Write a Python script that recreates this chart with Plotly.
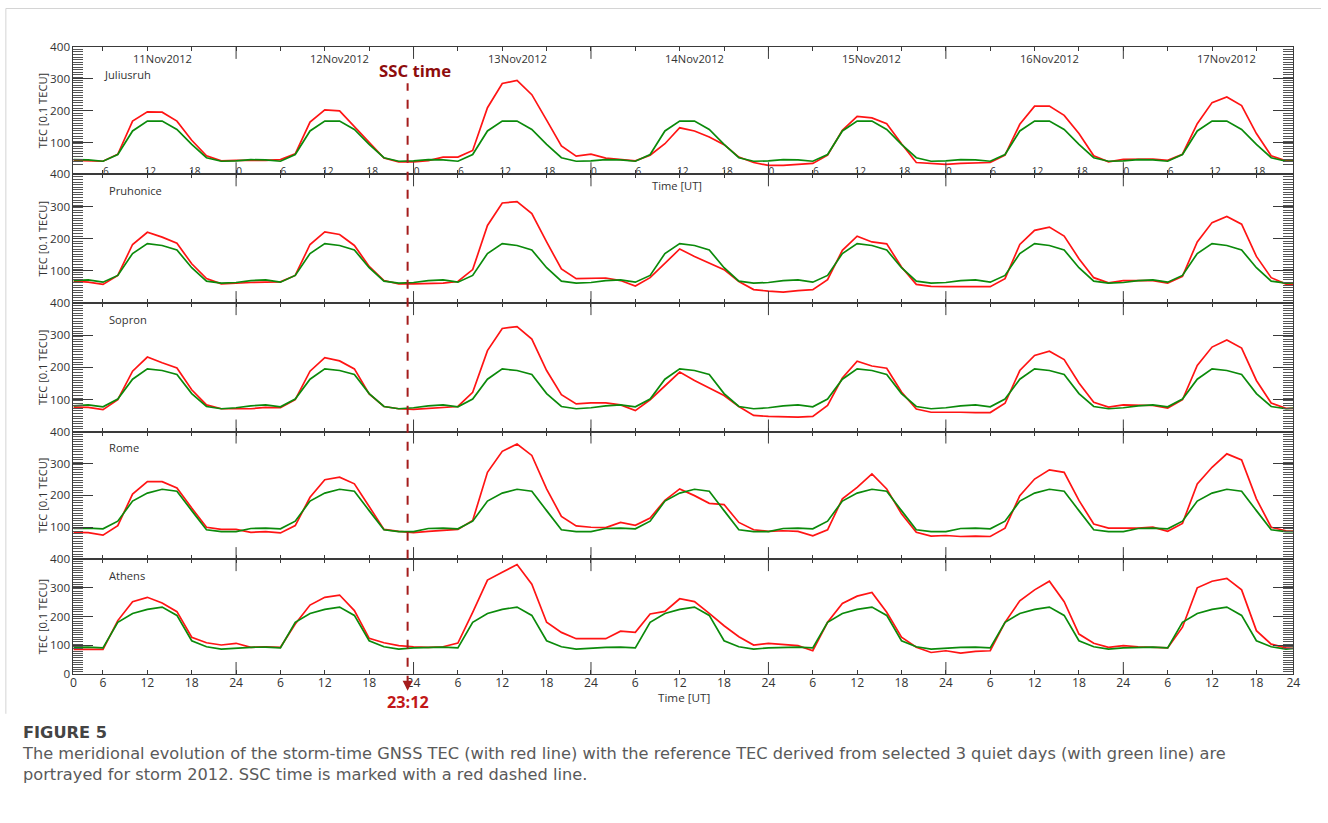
import plotly.graph_objects as go

# The page keeps the browser's default 8px body margin and the capture is fitted
# into the 1328x823 picture; positions below are given in picture pixels of the
# reference and mapped into figure coordinates (mapping calibrated on renders).
W, H = 1328, 823
OFF = 8
SY = H / (H + 2 * OFF)
SXR, BX = 0.9917, 3.63
FS = 1 / ((SXR + SY) / 2)   # font-size compensation for that fit

# ---------------- data ----------------
HOURS = list(range(2, 170, 2))          # hours since 11 Nov 2012 00 UT, 2-hourly
STATIONS = ["Juliusruh", "Pruhonice", "Sopron", "Rome", "Athens"]
DATES = ["11Nov2012", "12Nov2012", "13Nov2012", "14Nov2012",
         "15Nov2012", "16Nov2012", "17Nov2012"]
DATE_LABEL_HOURS = [14, 38, 62, 86, 110, 134, 158]
DAY_BOUNDARIES = [24, 48, 72, 96, 120, 144]
INNER_TICK_HOURS = list(range(6, 163, 6))
INNER_TICK_TEXT = ["6", "12", "18", "0"] * 6 + ["6", "12", "18"]
BOTTOM_TICK_HOURS = [2] + list(range(6, 163, 6)) + [167]
BOTTOM_TICK_TEXT = ["0"] + ["6", "12", "18", "24"] * 6 + ["6", "12", "18", "24"]
SSC_HOUR = 47.2            # 12 Nov 2012 23:12 UT
SSC_LABEL = "23:12"

# storm-time TEC (red) [0.1 TECU], one line per day (02..24 UT)
juliusruh_storm = [
    44, 43, 41, 63, 167, 196, 195, 167, 107, 58, 42, 44,
    43, 44, 46, 64, 164, 202, 199, 149, 98, 51, 39, 39,
    43, 54, 54, 75, 209, 285, 295, 250, 170, 89, 57, 63,
    51, 47, 42, 60, 96, 146, 136, 117, 93, 54, 37, 28,
    28, 31, 34, 60, 138, 182, 177, 159, 96, 37, 34, 31,
    34, 35, 37, 60, 157, 214, 214, 185, 128, 58, 39, 47,
    47, 48, 44, 63, 159, 225, 243, 216, 128, 58, 42, 42,
]
pruhonice_storm = [
    68, 65, 58, 86, 182, 220, 205, 186, 122, 76, 60, 63,
    64, 65, 66, 86, 182, 221, 213, 179, 114, 70, 60, 60,
    60, 62, 67, 104, 241, 311, 315, 278, 190, 106, 76, 78,
    78, 70, 53, 79, 122, 168, 145, 124, 104, 67, 42, 37,
    34, 39, 42, 73, 164, 208, 190, 184, 112, 58, 52, 51,
    51, 51, 51, 76, 182, 226, 236, 208, 138, 79, 63, 70,
    70, 70, 62, 83, 190, 250, 269, 245, 145, 79, 59, 59,
]
sopron_storm = [
    76, 75, 68, 99, 188, 232, 214, 198, 130, 83, 71, 71,
    71, 75, 74, 99, 188, 230, 220, 195, 117, 78, 71, 69,
    72, 74, 78, 122, 252, 321, 327, 288, 190, 115, 86, 89,
    89, 83, 65, 99, 143, 185, 159, 136, 112, 78, 50, 47,
    45, 45, 47, 81, 167, 219, 204, 197, 123, 70, 60, 61,
    60, 59, 59, 88, 190, 237, 250, 224, 151, 91, 76, 83,
    81, 81, 73, 99, 206, 263, 285, 260, 159, 89, 72, 72,
]
rome_storm = [
    84, 83, 75, 105, 204, 243, 243, 223, 160, 100, 93, 93,
    84, 86, 82, 105, 194, 249, 257, 236, 165, 93, 87, 83,
    87, 89, 93, 121, 272, 338, 361, 325, 220, 134, 104, 100,
    99, 115, 106, 129, 184, 220, 199, 175, 171, 115, 92, 87,
    89, 87, 73, 92, 189, 225, 267, 220, 142, 84, 72, 74,
    71, 72, 71, 97, 199, 251, 280, 272, 184, 110, 97, 97,
    97, 100, 87, 112, 236, 288, 330, 311, 189, 100, 89, 87,
]
athens_storm = [
    86, 86, 86, 186, 252, 267, 247, 217, 128, 109, 101, 107,
    93, 95, 93, 174, 240, 267, 275, 221, 124, 109, 99, 95,
    93, 95, 108, 215, 327, 354, 381, 313, 180, 145, 123, 123,
    123, 149, 145, 209, 218, 262, 252, 211, 168, 130, 101, 107,
    103, 99, 81, 180, 246, 271, 284, 215, 128, 93, 75, 81,
    73, 79, 81, 180, 255, 293, 323, 252, 139, 107, 93, 99,
    95, 93, 91, 163, 300, 323, 333, 293, 151, 104, 91, 87,
]

# quiet-day reference TEC (green) [0.1 TECU], one line per day (02..24 UT)
juliusruh_quiet = [
    46, 45, 41, 62, 136, 167, 167, 141, 94, 52, 41, 42,
    46, 45, 41, 62, 136, 167, 167, 141, 94, 52, 41, 42,
    46, 45, 41, 62, 136, 167, 167, 141, 94, 52, 41, 42,
    46, 45, 41, 62, 136, 167, 167, 141, 94, 52, 41, 42,
    46, 45, 41, 62, 136, 167, 167, 141, 94, 52, 41, 42,
    46, 45, 41, 62, 136, 167, 167, 141, 94, 52, 41, 42,
    46, 45, 41, 62, 136, 167, 167, 141, 94, 52, 41, 42,
]
pruhonice_quiet = [
    70, 72, 65, 86, 154, 185, 179, 165, 110, 68, 62, 64,
    70, 72, 65, 86, 154, 185, 179, 165, 110, 68, 62, 64,
    70, 72, 65, 86, 154, 185, 179, 165, 110, 68, 62, 64,
    70, 72, 65, 86, 154, 185, 179, 165, 110, 68, 62, 64,
    70, 72, 65, 86, 154, 185, 179, 165, 110, 68, 62, 64,
    70, 72, 65, 86, 154, 185, 179, 165, 110, 68, 62, 64,
    70, 72, 65, 86, 154, 185, 179, 165, 110, 68, 62, 64,
]
sopron_quiet = [
    80, 83, 77, 101, 163, 195, 190, 178, 118, 78, 71, 74,
    80, 83, 77, 101, 163, 195, 190, 178, 118, 78, 71, 74,
    80, 83, 77, 101, 163, 195, 190, 178, 118, 78, 71, 74,
    80, 83, 77, 101, 163, 195, 190, 178, 118, 78, 71, 74,
    80, 83, 77, 101, 163, 195, 190, 178, 118, 78, 71, 74,
    80, 83, 77, 101, 163, 195, 190, 178, 118, 78, 71, 74,
    80, 83, 77, 101, 163, 195, 190, 178, 118, 78, 71, 74,
]
rome_quiet = [
    96, 97, 95, 119, 182, 207, 219, 213, 152, 92, 86, 86,
    96, 97, 95, 119, 182, 207, 219, 213, 152, 92, 86, 86,
    96, 97, 95, 119, 182, 207, 219, 213, 152, 92, 86, 86,
    96, 97, 95, 119, 182, 207, 219, 213, 152, 92, 86, 86,
    96, 97, 95, 119, 182, 207, 219, 213, 152, 92, 86, 86,
    96, 97, 95, 119, 182, 207, 219, 213, 152, 92, 86, 86,
    96, 97, 95, 119, 182, 207, 219, 213, 152, 92, 86, 86,
]
athens_quiet = [
    93, 94, 91, 180, 211, 225, 233, 204, 116, 95, 87, 91,
    93, 94, 91, 180, 211, 225, 233, 204, 116, 95, 87, 91,
    93, 94, 91, 180, 211, 225, 233, 204, 116, 95, 87, 91,
    93, 94, 91, 180, 211, 225, 233, 204, 116, 95, 87, 91,
    93, 94, 91, 180, 211, 225, 233, 204, 116, 95, 87, 91,
    93, 94, 91, 180, 211, 225, 233, 204, 116, 95, 87, 91,
    93, 94, 91, 180, 211, 225, 233, 204, 116, 95, 87, 91,
]

STORM = [juliusruh_storm, pruhonice_storm, sopron_storm, rome_storm, athens_storm]
QUIET = [juliusruh_quiet, pruhonice_quiet, sopron_quiet, rome_quiet, athens_quiet]
Y_TICKS = [100, 200, 300, 400]
Y_TICKS_BOTTOM = [0, 100, 200, 300, 400]

CAPTION_TITLE = "FIGURE 5"
CAPTION_LINES = [
    "The meridional evolution of the storm-time GNSS TEC (with red line) with the reference TEC derived from selected 3 quiet days (with green line) are",
    "portrayed for storm 2012. SSC time is marked with a red dashed line.",
]

# ---------------- styling ----------------
FONT = "Open Sans, Noto Sans, DejaVu Sans, sans-serif"
CAP_FONT = "DejaVu Sans, Open Sans, sans-serif"
AX = "#3a3a3a"
RED = "#ff1414"
GREEN = "#0b8a0b"
SSC_COLOR = "#a51c1c"

# picture-pixel layout of the reference
X_LEFT, X_RIGHT = 74, 1293
TOPS = [46.7, 174.0, 302.7, 431.0, 558.5]
BOTS = [174.0, 302.7, 431.0, 558.5, 673.3]
X_RANGE = [2, 167]


def fx(r):
    """picture pixel x -> figure pixel x"""
    return (r - BX) / SXR


def fy(r):
    """picture pixel y -> figure pixel y"""
    return r / SY - OFF


def px(r):
    return fx(r) / W


def py(r):
    return 1 - fy(r) / H


def fs(size):
    return round(size * FS, 2)


fig = go.Figure()
layout = dict(
    width=W, height=H,
    margin=dict(l=0, r=0, t=0, b=0),
    paper_bgcolor="white", plot_bgcolor="white",
    showlegend=False,
    font=dict(family=FONT, color="#333"),
)

shapes = []
annotations = []

for i, name in enumerate(STATIONS):
    n = "" if i == 0 else str(i + 1)
    xa, ya = "x" + n, "y" + n
    fig.add_trace(go.Scatter(x=HOURS, y=STORM[i], mode="lines",
                             line=dict(color=RED, width=1.7),
                             xaxis=xa, yaxis=ya, hoverinfo="skip"))
    fig.add_trace(go.Scatter(x=HOURS, y=QUIET[i], mode="lines",
                             line=dict(color=GREEN, width=1.7),
                             xaxis=xa, yaxis=ya, hoverinfo="skip"))

    xaxis = dict(
        domain=[px(X_LEFT), px(X_RIGHT)], range=X_RANGE, anchor=ya,
        showline=True, linecolor=AX, linewidth=1, mirror="ticks",
        ticks="inside", ticklen=4, tickwidth=1, tickcolor=AX,
        showgrid=False, zeroline=False, tickmode="array",
    )
    if i == 0:
        xaxis.update(tickvals=INNER_TICK_HOURS, ticktext=INNER_TICK_TEXT,
                     ticklabelposition="inside", ticklabelshift=3,
                     ticklabelstandoff=-8,
                     tickfont=dict(family=FONT, size=fs(10), color="#333"))
    elif i == len(STATIONS) - 1:
        xaxis.update(tickvals=BOTTOM_TICK_HOURS, ticktext=BOTTOM_TICK_TEXT,
                     ticklabelstandoff=-3,
                     tickfont=dict(family=FONT, size=fs(12), color="#333"))
    else:
        xaxis.update(tickvals=INNER_TICK_HOURS, showticklabels=False)

    ph = fy(BOTS[i]) - fy(TOPS[i])
    yv = Y_TICKS_BOTTOM if i == len(STATIONS) - 1 else Y_TICKS
    yaxis = dict(
        domain=[py(BOTS[i]), py(TOPS[i])], range=[0, 400], anchor=xa,
        showline=True, linecolor=AX, linewidth=1, mirror="ticks",
        ticks="inside", ticklen=20, tickwidth=1, tickcolor=AX,
        tickmode="array", tickvals=yv, ticktext=[str(v) for v in yv],
        tickfont=dict(family=FONT, size=fs(11.5), color="#333"),
        showgrid=False, zeroline=False,
        minor=dict(ticks="inside", ticklen=10, tickwidth=1, tickcolor="#555",
                   dtick=8, tick0=0, showgrid=False),
        title=dict(text="TEC [0.1 TECU]", standoff=0,
                   font=dict(family=FONT, size=fs(11), color="#333")),
    )
    layout["xaxis" + n] = xaxis
    layout["yaxis" + n] = yaxis

    # long day-boundary ticks on top and bottom edges of each panel
    frac = (12 / SY) / ph
    for d in DAY_BOUNDARIES:
        for y0, y1 in [(0, frac), (1 - frac, 1)]:
            shapes.append(dict(type="line", xref=xa, yref=ya + " domain",
                               x0=d, x1=d, y0=y0, y1=y1,
                               line=dict(color=AX, width=1)))

    # station label
    lx = 103 if i == 0 else 108
    ly = TOPS[i] + (28 if i == 0 else 16)
    annotations.append(dict(text=name, xref="paper", yref="paper",
                            x=px(lx), y=py(ly), xanchor="left", yanchor="middle",
                            showarrow=False,
                            font=dict(family=FONT, size=fs(11), color="#333")))

# date labels
for dlab, hh in zip(DATES, DATE_LABEL_HOURS):
    annotations.append(dict(text=dlab, xref="x", yref="paper", x=hh, y=py(58),
                            xanchor="center", yanchor="middle", showarrow=False,
                            font=dict(family=FONT, size=fs(11), color="#333")))

# Time [UT] labels
annotations.append(dict(text="Time [UT]", xref="paper", yref="paper",
                        x=px(676.7), y=py(185), xanchor="center", yanchor="middle",
                        showarrow=False, font=dict(family=FONT, size=fs(11), color="#333")))
annotations.append(dict(text="Time [UT]", xref="paper", yref="paper",
                        x=px(684), y=py(697), xanchor="center", yanchor="middle",
                        showarrow=False, font=dict(family=FONT, size=fs(11.5), color="#333")))

# SSC dashed line, arrow and labels
shapes.append(dict(type="line", xref="x", yref="paper", x0=SSC_HOUR, x1=SSC_HOUR,
                   y0=py(684), y1=py(83),
                   line=dict(color=SSC_COLOR, width=2, dash="dash")))
annotations.append(dict(text="", xref="x", yref="paper", x=SSC_HOUR, y=py(690),
                        showarrow=True, ax=0, ay=-8, arrowhead=2, arrowsize=1,
                        arrowwidth=2, arrowcolor=SSC_COLOR))
annotations.append(dict(text="<b>SSC time</b>", xref="paper", yref="paper",
                        x=px(415), y=py(70), xanchor="center", yanchor="middle",
                        showarrow=False, font=dict(family=FONT, size=fs(16.5), color="#8e0c0c")))
annotations.append(dict(text="<b>" + SSC_LABEL + "</b>", xref="x", yref="paper",
                        x=SSC_HOUR, y=py(701), xanchor="center", yanchor="middle",
                        showarrow=False, font=dict(family=FONT, size=fs(16), color="#c21818")))

# caption (one text block)
caption = ('<span style="color:#444"><b>' + CAPTION_TITLE + '</b></span><br>'
           + "<br>".join(CAPTION_LINES))
annotations.append(dict(text=caption, xref="paper", yref="paper",
                        x=px(21), y=py(720), xanchor="left", yanchor="top",
                        align="left", showarrow=False,
                        font=dict(family=CAP_FONT, size=fs(16), color="#5a5a5a")))

# light page frame (as close to the page corner as the page margin allows)
frame = dict(color="#d4d4d4", width=1)
shapes.append(dict(type="line", xref="paper", yref="paper", x0=max(px(6.5), 0.5 / W), x1=1,
                   y0=1 - 0.5 / H, y1=1 - 0.5 / H, line=frame))
shapes.append(dict(type="line", xref="paper", yref="paper",
                   x0=max(px(6.5), 0.5 / W), x1=max(px(6.5), 0.5 / W),
                   y0=1 - 0.5 / H, y1=py(713), line=frame))

layout["shapes"] = shapes
layout["annotations"] = annotations
fig.update_layout(**layout)

fig.write_html("out.html")
